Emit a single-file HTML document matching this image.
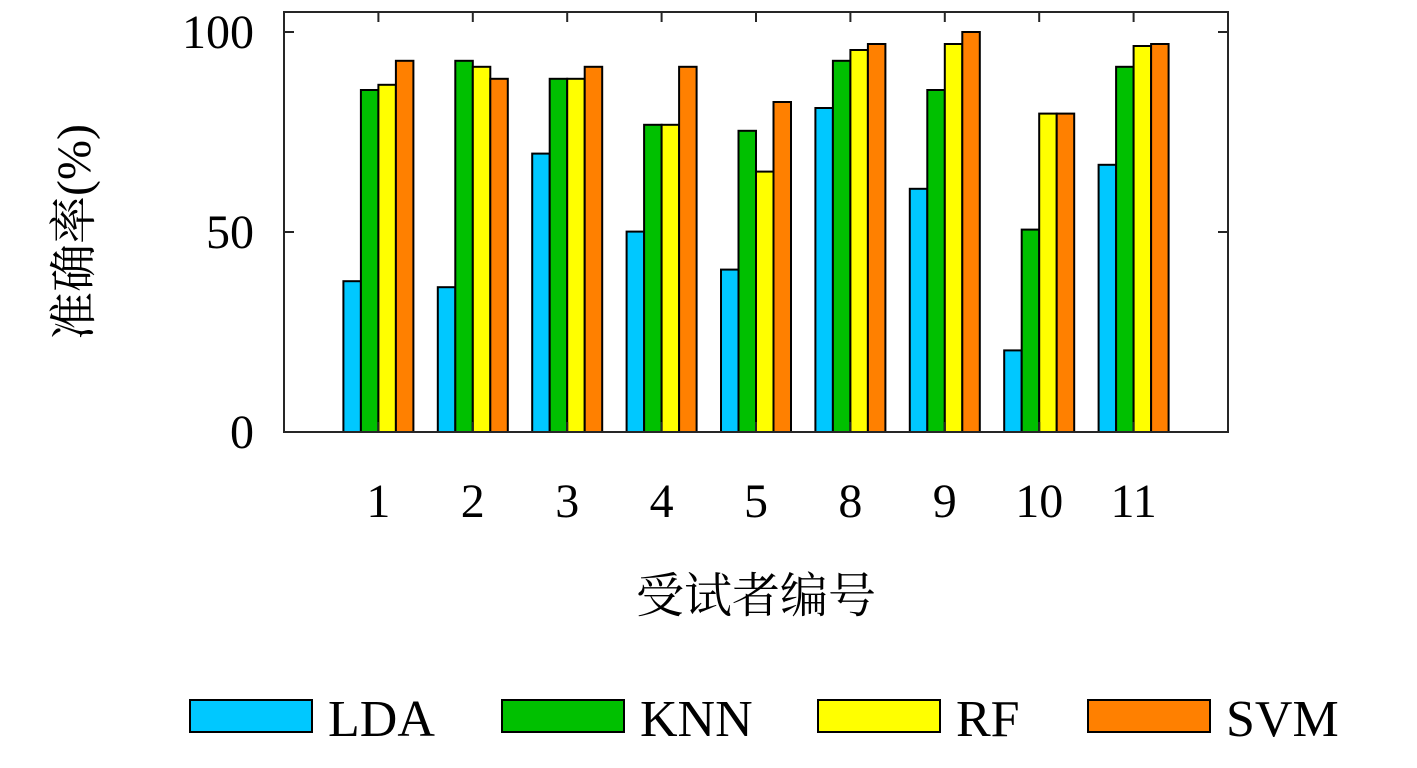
<!DOCTYPE html>
<html><head><meta charset="utf-8"><style>
html,body{margin:0;padding:0;background:#fff;}
svg text{font-family:"Liberation Serif","Noto Serif CJK SC",serif;fill:#000;}
</style></head><body>
<svg id="chart" width="1417" height="763" viewBox="0 0 1417 763" xmlns="http://www.w3.org/2000/svg">
<g id="bars"></g>
<g id="axes"></g>
<text transform="translate(90,232) rotate(-90)" text-anchor="middle" font-size="48">准确率(%)</text>
<text x="756" y="612" text-anchor="middle" font-size="48">受试者编号</text>
<g id="legend"></g>
</svg>
<script>
const categories = ["1","2","3","4","5","8","9","10","11"];
const seriesNames = ["LDA","KNN","RF","SVM"];
const ldaValues = [37.7,36.2,69.6,50.1,40.6,81,60.8,20.4,66.8];
const knnValues = [85.5,92.8,88.3,76.8,75.3,92.8,85.5,50.6,91.3];
const rfValues = [86.8,91.3,88.3,76.8,65.1,95.5,97,79.6,96.5];
const svmValues = [92.8,88.3,91.3,91.3,82.5,97,100,79.6,97];
const yTicks = [0,50,100];

const NS="http://www.w3.org/2000/svg";
const colors=["#00c8ff","#00c000","#ffff00","#ff8000"];
const series=[ldaValues,knnValues,rfValues,svmValues];
const L=284,R=1228,T=12,B=432,yMax=105;
const xs=i=>L+(i+1)*(R-L)/(categories.length+1);
const ys=v=>B-v*(B-T)/yMax;
const bw=17.5;
function mk(tag,attrs,parent){const e=document.createElementNS(NS,tag);for(const k in attrs)e.setAttribute(k,attrs[k]);parent.appendChild(e);return e;}
const bars=document.getElementById('bars');
series.forEach((vals,s)=>{
  vals.forEach((v,i)=>{
    const r=mk('rect',{x:xs(i)+(s-2)*bw,y:ys(v),width:bw,height:B-ys(v),fill:colors[s],stroke:'#000','stroke-width':2},bars);
    
    
  });
});
const axes=document.getElementById('axes');
const frame=mk('rect',{x:L,y:T,width:R-L,height:B-T,fill:'none',stroke:'#262626','stroke-width':2},axes);


yTicks.forEach(t=>{
  const y=ys(t);
  mk('line',{x1:L,x2:L+10,y1:y,y2:y,stroke:'#262626','stroke-width':2},axes);
  mk('line',{x1:R,x2:R-10,y1:y,y2:y,stroke:'#262626','stroke-width':2},axes);
  const tx=mk('text',{x:L-30,y:y+16,'text-anchor':'end','font-size':48},axes);
  tx.textContent=t;
  
  
});
categories.forEach((c,i)=>{
  const x=xs(i);
  mk('line',{x1:x,x2:x,y1:B,y2:B-10,stroke:'#262626','stroke-width':2},axes);
  mk('line',{x1:x,x2:x,y1:T,y2:T+10,stroke:'#262626','stroke-width':2},axes);
  const tx=mk('text',{x:x,y:517,'text-anchor':'middle','font-size':48},axes);
  tx.textContent=c;
  
  
});
const legend=document.getElementById('legend');
const lx=[190,502,818,1088];
seriesNames.forEach((n,s)=>{
  const r=mk('rect',{x:lx[s],y:700,width:122,height:32,fill:colors[s],stroke:'#000','stroke-width':2},legend);
  
  
  const t=mk('text',{x:lx[s]+138,y:736,'font-size':52},legend);
  t.textContent=n;
  
  
});
</script>
</body></html>
